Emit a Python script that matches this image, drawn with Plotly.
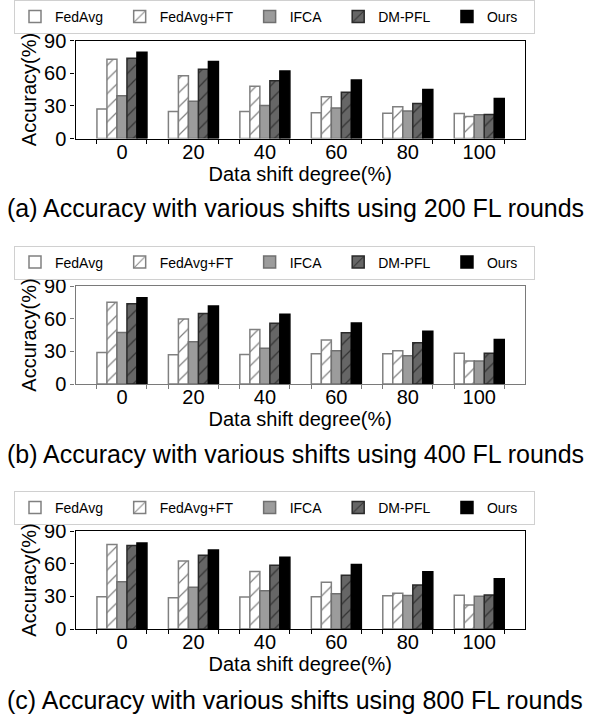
import plotly.graph_objects as go

categories = ["0", "20", "40", "60", "80", "100"]
methods = ["FedAvg", "FedAvg+FT", "IFCA", "DM-PFL", "Ours"]

# (a) 200 FL rounds
r200_fedavg = [27.0, 24.9, 24.9, 23.6, 23.3, 23.0]
r200_fedavg_ft = [72.8, 57.7, 47.9, 38.4, 29.2, 20.3]
r200_ifca = [39.3, 34.1, 30.4, 27.9, 25.2, 21.8]
r200_dmpfl = [73.7, 63.6, 53.1, 42.4, 32.2, 22.1]
r200_ours = [79.2, 70.6, 62.0, 53.7, 45.1, 36.8]

# (b) 400 FL rounds
r400_fedavg = [29.0, 26.8, 27.2, 27.8, 27.8, 28.2]
r400_fedavg_ft = [75.0, 59.8, 50.0, 40.3, 30.5, 21.2]
r400_ifca = [47.3, 38.7, 32.9, 30.5, 25.9, 21.2]
r400_dmpfl = [73.8, 64.7, 55.8, 47.0, 37.8, 28.2]
r400_ours = [79.3, 71.7, 64.1, 56.1, 48.5, 40.9]

# (c) 800 FL rounds
r800_fedavg = [29.6, 28.7, 29.3, 29.6, 30.5, 31.0]
r800_fedavg_ft = [77.5, 62.5, 52.8, 43.0, 32.9, 22.1]
r800_ifca = [43.3, 38.4, 35.1, 32.3, 30.8, 30.1]
r800_dmpfl = [76.6, 67.7, 58.6, 49.4, 40.3, 31.3]
r800_ours = [79.0, 72.6, 65.9, 59.2, 52.5, 46.1]

y_ticks = [0, 30, 60, 90]
captions = [
    "(a) Accuracy with various shifts using 200 FL rounds",
    "(b) Accuracy with various shifts using 400 FL rounds",
    "(c) Accuracy with various shifts using 800 FL rounds",
]
x_title = "Data shift degree(%)"
y_title = "Accuracy(%)"

panels = [
    [r200_fedavg, r200_fedavg_ft, r200_ifca, r200_dmpfl, r200_ours],
    [r400_fedavg, r400_fedavg_ft, r400_ifca, r400_dmpfl, r400_ours],
    [r800_fedavg, r800_fedavg_ft, r800_ifca, r800_dmpfl, r800_ours],
]

W, H = 590, 717
FONT = "Liberation Sans, Arial, sans-serif"
NBSP = "\u00a0\u00a0\u00a0"

styles = [
    dict(color="white", line=dict(color="#808080", width=1.5)),
    dict(color="white", line=dict(color="#808080", width=1.5),
         pattern=dict(shape="/", fgcolor="black", bgcolor="white", size=10, solidity=0.12)),
    dict(color="#9c9c9c", line=dict(color="#707070", width=1.5)),
    dict(color="#666666", line=dict(color="#2a2a2a", width=1.5),
         pattern=dict(shape="/", fgcolor="black", bgcolor="#666666", size=10, solidity=0.12)),
    dict(color="black", line=dict(color="black", width=1.5)),
]

xpos = list(range(len(categories)))
half = 0.35
minor_vals = []
for p in xpos:
    minor_vals += [p - half, p + half]

plot_tops = [40.5, 286.0, 531.0]
plot_h = 98.0
x_left, x_right = 75.5, 525.0
legend_tops = [0.0, 245.5, 491.0]
caption_y = [208.0, 454.0, 699.5]
frame_colors = ["black", "#7a7a7a", "black"]

fig = go.Figure()
layout = dict(
    width=W, height=H,
    margin=dict(l=0, r=0, t=0, b=0, autoexpand=False),
    paper_bgcolor="white", plot_bgcolor="white",
    barmode="group", bargap=0.3, bargroupgap=0.0,
    font=dict(family=FONT, color="black", size=20),
    annotations=[],
)

for k, series in enumerate(panels):
    sfx = "" if k == 0 else str(k + 1)
    leg = "legend" + sfx
    for name, vals, st in zip(methods, series, styles):
        fig.add_trace(go.Bar(
            x=xpos, y=vals, name=name + NBSP,
            marker=st, xaxis="x" + sfx, yaxis="y" + sfx, legend=leg,
        ))
    top, bot = plot_tops[k], plot_tops[k] + plot_h
    fc = frame_colors[k]
    layout["xaxis" + sfx] = dict(
        domain=[x_left / W, x_right / W], anchor="y" + sfx,
        range=[-0.65, 5.64], tickmode="array", tickvals=xpos, ticktext=categories,
        ticks="", ticklen=0, ticklabelstandoff=-5,
        showline=True, linecolor=fc, linewidth=1.3, mirror=True,
        showgrid=False, zeroline=False, tickfont=dict(size=20),
        minor=dict(tickmode="array", tickvals=minor_vals, ticks="outside",
                   ticklen=4, tickwidth=1, tickcolor=fc),
        title=dict(text=x_title, font=dict(size=20), standoff=0),
    )
    layout["yaxis" + sfx] = dict(
        domain=[1 - bot / H, 1 - top / H], anchor="x" + sfx,
        range=[0, 90], tickmode="array", tickvals=y_ticks,
        ticks="outside", ticklen=4, tickwidth=1, tickcolor=fc,
        showline=True, linecolor=fc, linewidth=1.3, mirror=True,
        showgrid=False, zeroline=False, tickfont=dict(size=20),
        title=dict(text=y_title, font=dict(size=20), standoff=2),
    )
    layout[leg] = dict(
        orientation="h", x=14.0 / W, xanchor="left",
        y=1 - legend_tops[k] / H, yanchor="top",
        bgcolor="rgba(255,255,255,0)", bordercolor="#d0d0d0", borderwidth=1,
        font=dict(size=14), itemwidth=30,
    )
    layout["annotations"].append(dict(
        text=captions[k], xref="paper", yref="paper",
        x=0.5, y=1 - caption_y[k] / H, xanchor="center", yanchor="middle",
        showarrow=False, font=dict(size=25),
    ))

fig.update_layout(**layout)
fig.write_html("out.html")
